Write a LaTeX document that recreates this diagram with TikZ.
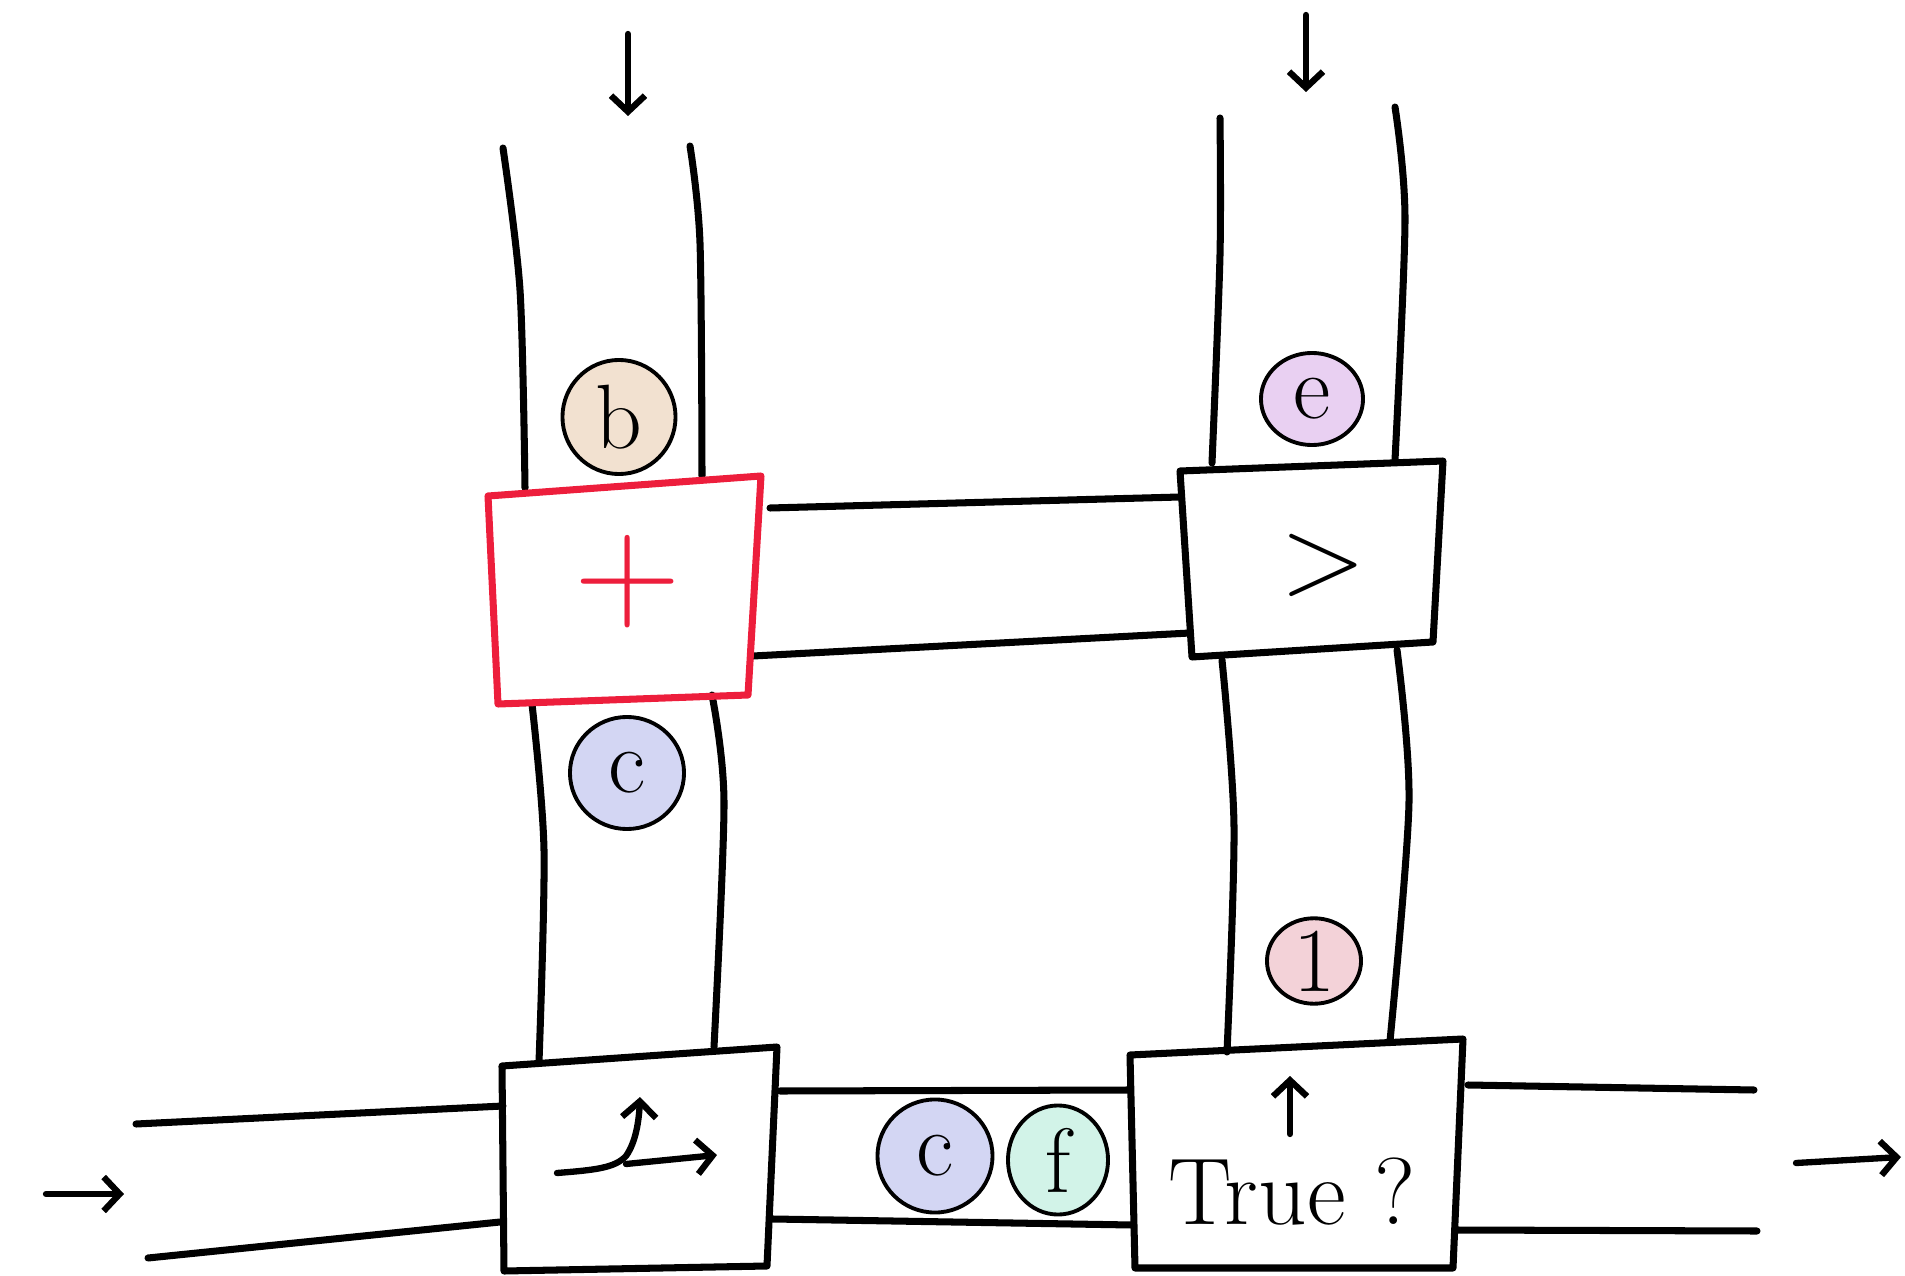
\documentclass[tikz,border=0pt]{standalone}
\usetikzlibrary{arrows.meta,shapes.geometric}
\definecolor{tokb}{RGB}{242,225,208}
\definecolor{tokc}{RGB}{211,214,243}
\definecolor{toke}{RGB}{233,208,242}
\definecolor{tokone}{RGB}{243,210,216}
\definecolor{tokf}{RGB}{210,243,232}
\definecolor{opred}{RGB}{237,30,60}

\begin{document}
\begin{tikzpicture}[x=0.01cm, y=-0.01cm, line join=round, line cap=round,
    wire/.style={line width=2pt},
    flow/.style={line width=1.8pt, -{Straight Barb[length=1.6mm,width=3.4mm]}},
    token/.style={ellipse, draw, line width=1.1pt, inner sep=0pt,
      font=\fontsize{26}{26}\selectfont}]
  \useasboundingbox (0,0) rectangle (1905,1276);
  % inflow arrows on top
  \draw[flow] (628,34) -- (628,116);
  \draw[flow] (1306,15) -- (1306,92);
  % left column, above and below the + box
  \draw[wire] plot[smooth] coordinates {(503,148) (520,290) (525,488)};
  \draw[wire] plot[smooth] coordinates {(690,146) (700,243) (702,476)};
  \draw[wire] plot[smooth] coordinates {(532,704) (544,850) (539,1062)};
  \draw[wire] plot[smooth] coordinates {(712,695) (724,802) (714,1047)};
  % right column, above and below the > box
  \draw[wire] plot[smooth] coordinates {(1220,118) (1220,255) (1212,463)};
  \draw[wire] plot[smooth] coordinates {(1395,107) (1405,219) (1395,460)};
  \draw[wire] plot[smooth] coordinates {(1222,660) (1234,826) (1227,1052)};
  \draw[wire] plot[smooth] coordinates {(1397,650) (1409,802) (1390,1041)};
  % channel between + and >
  \draw[wire] (770,508) -- (1180,497);
  \draw[wire] (753,656) -- (1190,633);
  % bottom row
  \draw[wire] (136,1124) -- (503,1106);
  \draw[wire] (148,1258) -- (500,1222);
  \draw[wire] (780,1091) -- (1130,1090);
  \draw[wire] (773,1219) -- (1132,1225);
  \draw[wire] (1468,1085) -- (1754,1090);
  \draw[wire] (1456,1230) -- (1757,1231);
  \draw[flow] (46,1194) -- (124,1194);
  \draw[flow] (1796,1163) -- (1901,1157);
  % boxes
  \draw[wire, opred] (488,496) -- (761,476) -- (748,695) -- (498,704) -- cycle;
  \draw[wire] (1180,471) -- (1443,461) -- (1433,642) -- (1192,657) -- cycle;
  \draw[wire] (502,1066) -- (777,1047) -- (767,1266) -- (504,1271) -- cycle;
  \draw[wire] (1130,1055) -- (1463,1039) -- (1453,1268) -- (1135,1268) -- cycle;
  \node[text=opred, font=\fontsize{42}{42}\selectfont] (plus) at (628,582) {+};
  \node[font=\fontsize{32}{32}\selectfont] (gt) at (1323,565) {>};
  \node[font=\fontsize{27}{27}\selectfont] (true) at (1292,1192) {True ?};
  % switch glyph and the check arrow
  \draw[flow] (557,1173) .. controls (595,1170) and (615,1168) .. (626,1156)
      .. controls (636,1142) and (639,1120) .. (640,1097);
  \draw[flow] (626,1164) -- (717,1155);
  \draw[flow] (1290,1134) -- (1290,1076);
  % tokens
  \node[token, fill=tokb, minimum width=1.13cm, minimum height=1.14cm] (b) at (619,417) {b};
  \node[token, fill=tokc, minimum width=1.14cm, minimum height=1.12cm] (c1) at (627,773) {c};
  \node[token, fill=toke, minimum width=1.02cm, minimum height=0.92cm] (e) at (1312,399) {e};
  \node[token, fill=tokone, minimum width=0.94cm, minimum height=0.84cm] (one) at (1314,961) {1};
  \node[token, fill=tokc, minimum width=1.15cm, minimum height=1.13cm] (c2) at (935,1156) {c};
  \node[token, fill=tokf, minimum width=1.0cm, minimum height=1.09cm] (f) at (1058,1160) {f};
\end{tikzpicture}
\end{document}
